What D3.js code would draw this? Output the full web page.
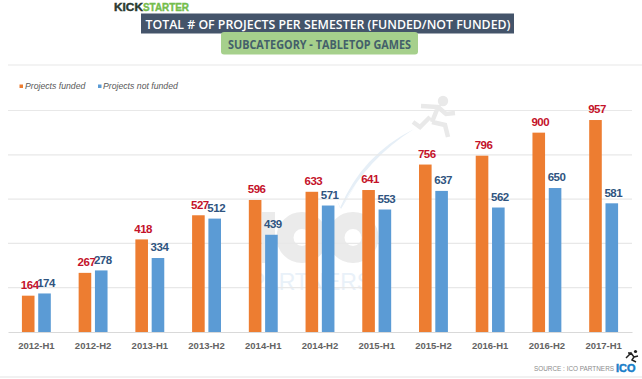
<!DOCTYPE html>
<html>
<head>
<meta charset="utf-8">
<script src="https://cdn.jsdelivr.net/npm/d3@7"></script>
<style>
  html, body { margin: 0; padding: 0; background: #fff; }
  svg { display: block; }
</style>
</head>
<body>
<div id="chart"></div>
<script>
const semesters = ["2012-H1","2012-H2","2013-H1","2013-H2","2014-H1","2014-H2","2015-H1","2015-H2","2016-H1","2016-H2","2017-H1"];
const funded = [164,267,418,527,596,633,641,756,796,900,957];
const notFunded = [174,278,334,512,439,571,553,637,562,650,581];
const gridValues = [200,400,600,800,1000];
const seriesNames = ["Projects funded","Projects not funded"];

const width = 642, height = 379;
const orange = "#ed7d31", blue = "#5b9bd5";
const grey = "#ebebeb";

const svg = d3.select("#chart").append("svg")
  .attr("width", width)
  .attr("height", height)
  .style("font-family", "Liberation Sans, Arial, sans-serif");

const x = d3.scaleBand().domain(semesters).range([8, 632]);
// 957 reaches y=120, baseline at y=332
const y = d3.scaleLinear().domain([0, 1000]).range([332, 110.5]);

// frame lines above and below the plot
svg.append("line").attr("x1", 8).attr("x2", width).attr("y1", 65).attr("y2", 65)
  .attr("stroke", "#e8e8e8").attr("stroke-width", 1.2);
svg.append("line").attr("x1", 0).attr("x2", width).attr("y1", 377).attr("y2", 377)
  .attr("stroke", "#e4e4e4").attr("stroke-width", 1.2);

// watermark behind the grid: ICO logo, its arc and the runner
const mark = svg.append("g");
mark.append("rect").attr("x", 262).attr("y", 212).attr("width", 13).attr("height", 51).attr("fill", grey);
mark.selectAll("circle.ring")
  .data([302, 353])
  .join("circle")
    .attr("cx", d => d).attr("cy", 237.5).attr("r", 17)
    .attr("fill", "none").attr("stroke", grey).attr("stroke-width", 17);
mark.append("path")
  .attr("d", "M340 208 Q362 155 414 129 Q368 158 342 206 L358 181 L341 209 L336 198 Z")
  .attr("fill", "#e6eff7");
mark.append("circle").attr("cx", 443).attr("cy", 101).attr("r", 5.2).attr("fill", "#e9e9e9");
mark.append("path")
  .attr("d", "M421 106 L438 107 L432 122 M438 107 L446 114 L455 113 M432 122 L445 125 L448 137 M430 117 L420 127 L413 122")
  .attr("fill", "none").attr("stroke", "#e9e9e9").attr("stroke-width", 4.5);
mark.append("text")
  .attr("x", 250).attr("y", 290)
  .attr("font-size", 23)
  .attr("textLength", 122).attr("lengthAdjust", "spacing")
  .attr("fill", "#e9f1f9")
  .text("PARTNERS");

// grid
svg.selectAll(".grid")
  .data(gridValues)
  .join("line")
    .attr("x1", 8).attr("x2", 632)
    .attr("y1", d => y(d)).attr("y2", d => y(d))
    .attr("stroke", "#e8e8e8")
    .attr("stroke-width", 1.2);

// bottom axis
const axis = svg.append("g")
  .attr("transform", `translate(0,${y(0)})`)
  .call(d3.axisBottom(x).tickSize(0).tickPadding(10));
axis.select(".domain").attr("stroke", "#d9d9d9");
axis.selectAll("text")
  .attr("font-size", 9.5)
  .attr("font-weight", 700)
  .attr("font-family", "Liberation Sans, Arial, sans-serif")
  .attr("fill", "#636363");

const barW = 12.6, barGap = 3.7;

function drawSeries(values, color, offset, labelColor) {
  const g = svg.append("g");
  g.selectAll("rect")
    .data(values)
    .join("rect")
      .attr("x", (d, i) => x(semesters[i]) + x.bandwidth() / 2 + offset)
      .attr("y", d => y(d))
      .attr("width", barW)
      .attr("height", d => y(0) - y(d))
      .attr("fill", color);
  g.selectAll("text")
    .data(values)
    .join("text")
      .attr("x", (d, i) => x(semesters[i]) + x.bandwidth() / 2 + offset + barW / 2 + 1.5)
      .attr("y", d => y(d) - 6.7)
      .attr("text-anchor", "middle")
      .attr("font-size", 11.5)
      .attr("font-weight", 700)
      .attr("letter-spacing", -0.5)
      .attr("fill", labelColor)
      .text(d => d);
}

drawSeries(funded, orange, -barW - barGap / 2, "#c4122a");
drawSeries(notFunded, blue, barGap / 2, "#2f5480");

// legend
const legend = svg.append("g");
legend.selectAll("rect")
  .data(seriesNames)
  .join("rect")
    .attr("x", (d, i) => i ? 98 : 19.5)
    .attr("y", 84.5)
    .attr("width", 3.5).attr("height", 3.5)
    .attr("fill", (d, i) => i ? blue : orange);
legend.selectAll("text")
  .data(seriesNames)
  .join("text")
    .attr("x", (d, i) => i ? 103 : 25)
    .attr("y", 89)
    .attr("font-size", 8.7)
    .attr("font-style", "italic")
    .attr("fill", "#595959")
    .text(d => d);

// title boxes
svg.append("rect").attr("x", 141).attr("y", 13.5).attr("width", 373).attr("height", 20).attr("fill", "#44546a");
svg.append("text")
  .attr("x", 145.5).attr("y", 29)
  .attr("font-family", "Open Sans, sans-serif")
  .attr("font-size", 13).attr("font-weight", 600)
  .attr("textLength", 365).attr("lengthAdjust", "spacingAndGlyphs")
  .attr("fill", "#fff")
  .text("TOTAL # OF PROJECTS PER SEMESTER (FUNDED/NOT FUNDED)");
svg.append("rect").attr("x", 221).attr("y", 32).attr("width", 197).attr("height", 22.5).attr("rx", 3).attr("fill", "#a6d08c");
svg.append("text")
  .attr("x", 228).attr("y", 49)
  .attr("font-family", "Open Sans, sans-serif")
  .attr("font-size", 11.5).attr("font-weight", 700)
  .attr("textLength", 183).attr("lengthAdjust", "spacingAndGlyphs")
  .attr("fill", "#44606a")
  .text("SUBCATEGORY - TABLETOP GAMES");

// kickstarter logo
svg.append("text")
  .attr("x", 114).attr("y", 10.8)
  .attr("font-size", 10.5).attr("font-weight", 700)
  .attr("textLength", 29).attr("lengthAdjust", "spacingAndGlyphs")
  .attr("fill", "#2a3a30").attr("stroke", "#2a3a30").attr("stroke-width", 0.4)
  .text("KICK");
svg.append("text")
  .attr("x", 143).attr("y", 10.8)
  .attr("font-size", 10.5).attr("font-weight", 700)
  .attr("textLength", 46).attr("lengthAdjust", "spacingAndGlyphs")
  .attr("fill", "#74bd4c").attr("stroke", "#74bd4c").attr("stroke-width", 0.4)
  .text("STARTER");

// source
svg.append("text")
  .attr("x", 534).attr("y", 370.7)
  .attr("font-size", 6.4)
  .attr("fill", "#8c8c8c")
  .text("SOURCE : ICO PARTNERS");
svg.append("text")
  .attr("x", 616).attr("y", 372)
  .attr("font-size", 11).attr("font-weight", 700)
  .attr("textLength", 19.5).attr("lengthAdjust", "spacingAndGlyphs")
  .attr("fill", "#1a7fc9").attr("stroke", "#1a7fc9").attr("stroke-width", 0.5)
  .text("ICO");

// small runner next to the source
const runner = svg.append("g");
runner.append("circle").attr("cx", 635.5).attr("cy", 351.5).attr("r", 1.6).attr("fill", "#222");
runner.append("path")
  .attr("d", "M626 358 L628 356 L631 353 L634 357 L632 360 L636 362 M631 353 L628 353 M634 357 L638 356")
  .attr("fill", "none").attr("stroke", "#222").attr("stroke-width", 1.5);
</script>
</body>
</html>
